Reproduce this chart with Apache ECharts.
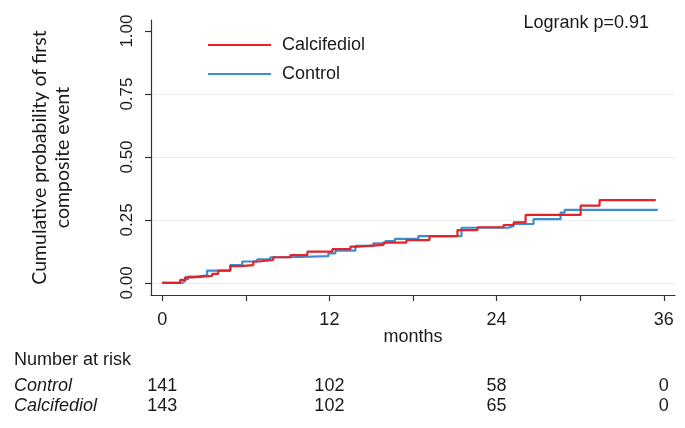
<!DOCTYPE html>
<html>
<head>
<meta charset="utf-8">
<script src="https://cdn.jsdelivr.net/npm/echarts@6/dist/echarts.min.js"></script>
<style>
html,body{margin:0;padding:0;background:#fff;}
#chart{width:685px;height:428px;}
</style>
</head>
<body>
<div id="chart"></div>
<script>
// ---- data ----
const xLabelMonths = [0, 12, 24, 36];
const xTickMonths = [0, 6, 12, 18, 24, 30, 36];
const yTickValues = [0, 0.25, 0.5, 0.75, 1];
const gridValues = [0, 0.25, 0.5, 0.75];

const calcTimes = [0, 1.29, 1.65, 2.16, 3.59, 4.02, 4.89, 5.60, 6.54, 6.90, 7.97, 9.20, 10.42, 12.21, 13.51, 14.08, 15.88, 17.53, 19.18, 21.19, 22.63, 24.50, 25.22, 26.08, 30.03, 31.39, 35.42];
const calcProb  = [0, 0.012, 0.022, 0.028, 0.036, 0.049, 0.067, 0.071, 0.085, 0.091, 0.102, 0.11, 0.124, 0.134, 0.144, 0.151, 0.16, 0.17, 0.186, 0.21, 0.221, 0.23, 0.24, 0.27, 0.307, 0.329, 0.329];

const ctrlTimes = [0, 1.44, 1.65, 1.87, 2.51, 3.23, 4.89, 5.75, 6.82, 7.76, 9.20, 11.93, 12.43, 13.87, 15.16, 16.02, 16.70, 18.39, 21.48, 24.86, 25.22, 26.65, 28.59, 28.88, 35.56];
const ctrlProb  = [0, 0.007, 0.015, 0.025, 0.03, 0.049, 0.071, 0.085, 0.094, 0.102, 0.106, 0.117, 0.128, 0.147, 0.157, 0.166, 0.175, 0.186, 0.219, 0.226, 0.234, 0.253, 0.279, 0.29, 0.29];

const riskMonths = [0, 12, 24, 36];
const riskControl = [141, 102, 58, 0];
const riskCalcifediol = [143, 102, 65, 0];
const pText = 'Logrank p=0.91';

// ---- chart ----
const RED = '#e3222b';
const BLUE = '#3b8cd0';
const TXT = '#1a1a1a';
const FONT = '"Liberation Sans", Arial, sans-serif';

const chart = echarts.init(document.getElementById('chart'), null, {renderer: 'canvas'});
const zip = (a, b) => a.map((t, i) => [t, b[i]]);

chart.setOption({
  animation: false,
  backgroundColor: '#fff',
  textStyle: {fontFamily: FONT},
  grid: {left: 151, right: 10, top: 20, bottom: 133, containLabel: false},
  legend: {
    orient: 'vertical', left: 203, top: 31,
    data: ['Calcifediol', 'Control'],
    icon: 'rect', itemWidth: 63, itemHeight: 2, itemGap: 11,
    selectedMode: false,
    textStyle: {fontSize: 18, color: TXT, fontFamily: FONT, padding: [0, 0, 0, 6], lineHeight: 18}
  },
  xAxis: {
    type: 'value', min: -0.8, max: 36.8,
    name: 'months', nameLocation: 'middle', nameGap: 33, nameMoveOverlap: false,
    nameTextStyle: {fontSize: 18, color: TXT, fontFamily: FONT},
    axisLine: {show: true, onZero: false, lineStyle: {color: '#333', width: 1.2}},
    axisTick: {show: true, length: 6, customValues: xTickMonths, lineStyle: {color: '#333', width: 1.2}},
    axisLabel: {customValues: xLabelMonths, fontSize: 18, color: TXT, margin: 16, fontFamily: FONT},
    splitLine: {show: false}
  },
  yAxis: {
    type: 'value', min: -0.048, max: 1.044,
    name: 'Cumulative probability of first\ncomposite event',
    nameLocation: 'middle', nameRotate: 90, nameGap: 77,
    nameTextStyle: {fontSize: 19.5, color: TXT, fontFamily: 'Lato, "Open Sans", sans-serif', lineHeight: 23},
    axisLine: {show: true, onZero: false, lineStyle: {color: '#333', width: 1.2}},
    axisTick: {show: true, length: 6, customValues: yTickValues, lineStyle: {color: '#333', width: 1.2}},
    axisLabel: {customValues: yTickValues, rotate: 90, fontSize: 17, color: TXT, margin: 15, fontFamily: FONT,
      formatter: v => v.toFixed(2)},
    splitLine: {show: false}
  },
  series: [
    {
      name: 'Control', type: 'line', step: 'end', showSymbol: false, symbol: 'none',
      data: zip(ctrlTimes, ctrlProb), color: BLUE,
      lineStyle: {color: BLUE, width: 2.2},
      markLine: {
        silent: true, symbol: ['none', 'none'], label: {show: false},
        lineStyle: {color: '#e9eef2', width: 1, type: 'solid'},
        data: gridValues.map(v => ({yAxis: v})),
        z: 0
      },
      z: 2
    },
    {
      name: 'Calcifediol', type: 'line', step: 'end', showSymbol: false, symbol: 'none',
      data: zip(calcTimes, calcProb), color: RED,
      lineStyle: {color: RED, width: 2.2},
      z: 3
    }
  ]
});

// risk table + annotation, positioned with the x axis scale
const graphics = [];
const txt = (x, y, s, opts) => graphics.push({
  type: 'text', x: x, y: y, silent: true,
  style: Object.assign({text: s, fontSize: 18, fontFamily: FONT, fill: TXT, textVerticalAlign: 'middle'}, opts || {})
});
txt(649, 23, pText, {textAlign: 'right'});
txt(14, 360, 'Number at risk', {textAlign: 'left'});
txt(14, 386, 'Control', {textAlign: 'left', fontStyle: 'italic'});
txt(14, 406, 'Calcifediol', {textAlign: 'left', fontStyle: 'italic'});
riskMonths.forEach((m, i) => {
  const px = chart.convertToPixel({xAxisIndex: 0}, m);
  txt(px, 386, String(riskControl[i]), {textAlign: 'center'});
  txt(px, 406, String(riskCalcifediol[i]), {textAlign: 'center'});
});
chart.setOption({graphic: graphics});
</script>
</body>
</html>
